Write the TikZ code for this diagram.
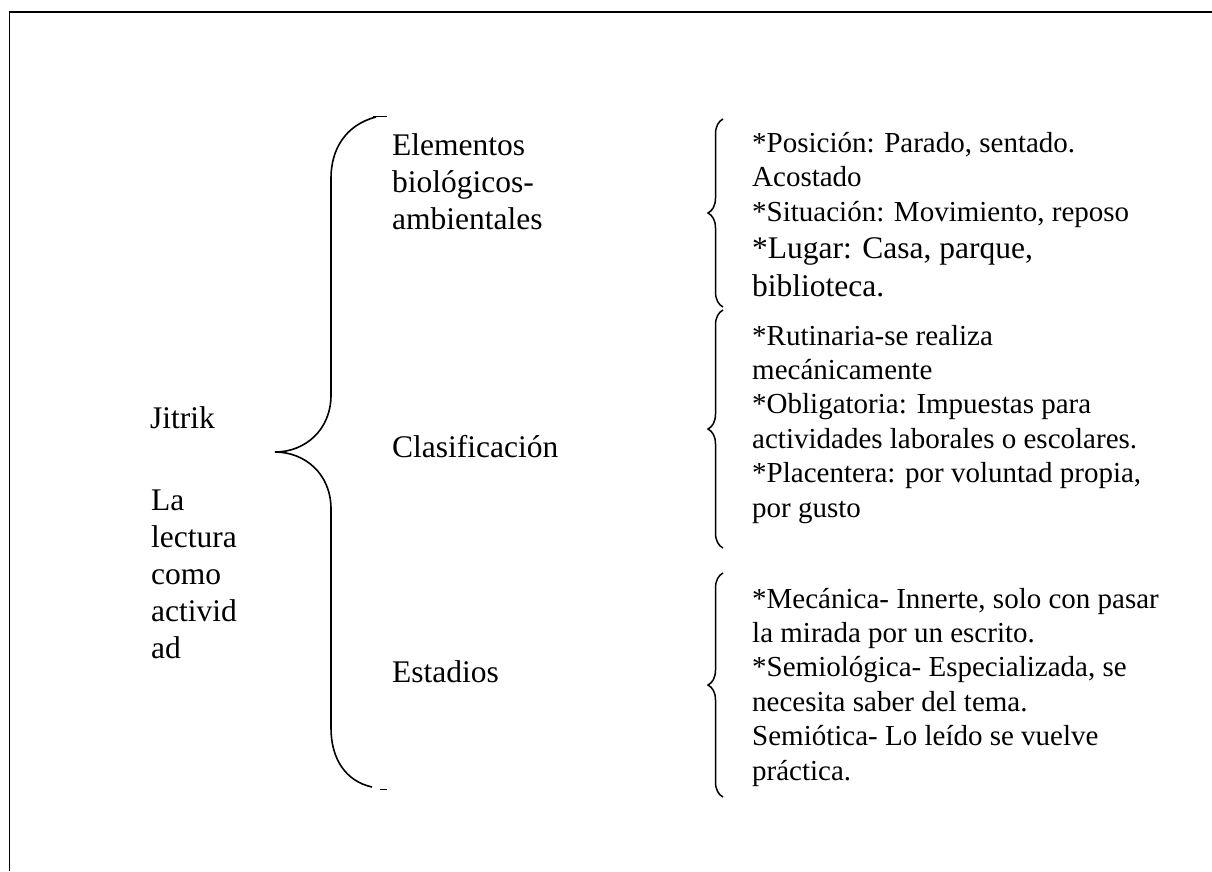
\documentclass[tikz,border=0pt]{standalone}
\usepackage{fontspec}
\setmainfont{Liberation Serif}
\usepackage{tikz}
\usetikzlibrary{positioning}
\usetikzlibrary{decorations.pathreplacing}
\tikzstyle{topic} = [anchor=base west,inner sep=0pt,align=left,font=\fontsize{31.5}{37}\selectfont]
\tikzstyle{detail} = [anchor=base west,inner sep=0pt,align=left,font=\fontsize{29}{34.4}\selectfont]
\tikzstyle{place} = [anchor=base west,inner sep=0pt,align=left,font=\fontsize{31.5}{38}\selectfont]
\tikzstyle{bracket} = [line width=1.5pt,decorate,decoration={brace,amplitude=15pt}]

\begin{document}
\begin{tikzpicture}[x=1pt,y=-1pt]
						\useasboundingbox (0,0) rectangle (1212,871);
						%Frame
						\draw[line width=1.5pt] (9.5,871) -- (9.5,12) -- (1212,12);
						
						%Nodes (multi-line nodes sit on the baseline of their last line)
						\node[topic] (jitrik) at (150,428) {Jitrik};
						\node[topic] (lectura) at (151,658) {La\\lectura\\como\\activid\\ad};
						
						\node[topic] (elem) at (392,229) {Elementos\\biológicos-\\ambientales};
						\node[topic] (clasif) at (392,457) {Clasificación};
						\node[topic] (estad) at (392,682) {Estadios};
						
						\node[detail] (pos) at (752,221) {*Posición: Parado, sentado.\\Acostado\\*Situación: Movimiento, reposo};
						\node[place] (lugar) at (752,296) {*Lugar: Casa, parque,\\biblioteca.};
						\node[detail] (rutin) at (752,517) {*Rutinaria-se realiza\\mecánicamente\\*Obligatoria: Impuestas para\\actividades laborales o escolares.\\*Placentera: por voluntad propia,\\por gusto};
						\node[detail] (mecan) at (752,780) {*Mecánica- Innerte, solo con pasar\\la mirada por un escrito.\\*Semiológica- Especializada, se\\necesita saber del tema.\\Semiótica- Lo leído se vuelve\\práctica.};
						
						%Main brace
						\coordinate (top) at (376,117);
						\coordinate (tip) at (275,452);
						\coordinate (bot) at (372,787);
						\draw[line width=1.6pt] (top) .. controls (345,125) and (331,150) .. (331,178) -- (331,395)
							.. controls (331,430) and (305,452) .. (tip)
							.. controls (305,452) and (331,474) .. (331,509) -- (331,728)
							.. controls (331,758) and (345,781) .. (bot);
						\draw[thin] (373,116) -- (387,116);
						\draw[thin] (380,789) -- (387,789);
						
						%Small braces
						\coordinate (b1s) at (723,307);
						\coordinate (b1e) at (723,119);
						\coordinate (b2s) at (723,548);
						\coordinate (b2e) at (723,310);
						\coordinate (b3s) at (723,797);
						\coordinate (b3e) at (723,573);
						\draw[bracket] (b1s) -- (b1e);
						\draw[bracket] (b2s) -- (b2e);
						\draw[bracket] (b3s) -- (b3e);
					\end{tikzpicture}
\end{document}
